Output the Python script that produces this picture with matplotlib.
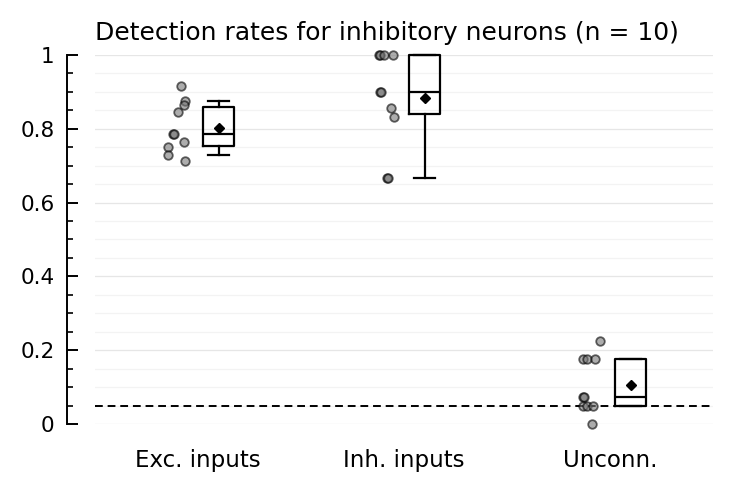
import matplotlib
matplotlib.use("Agg")
import matplotlib.pyplot as plt
import numpy as np

categories = ["Exc. inputs", "Inh. inputs", "Unconn."]
exc_vals = [0.917, 0.875, 0.864, 0.846, 0.786, 0.786, 0.751, 0.729, 0.764, 0.714]
exc_jit = [-0.082, -0.063, -0.068, -0.097, -0.121, -0.116, -0.145, -0.145, -0.068, -0.063]
inh_vals = [1.0, 1.0, 1.0, 1.0, 0.9, 0.9, 0.857, 0.833, 0.667, 0.667]
inh_jit = [-0.121, -0.116, -0.097, -0.053, -0.116, -0.113, -0.063, -0.048, -0.082, -0.080]
unc_vals = [0.225, 0.175, 0.175, 0.175, 0.073, 0.073, 0.05, 0.05, 0.05, 0.0]
unc_jit = [-0.048, -0.13, -0.11, -0.072, -0.13, -0.125, -0.13, -0.11, -0.082, -0.087]
chance_level = 0.05
title = "Detection rates for inhibitory neurons (n = 10)"

data = [exc_vals, inh_vals, unc_vals]
jits = [exc_jit, inh_jit, unc_jit]

fig = plt.figure(figsize=(7.34, 4.91), dpi=100)
ax = fig.add_axes([0.1294, 0.1365, 0.9714 - 0.1294, 0.888 - 0.1365])

# grid
ax.set_axisbelow(True)
ax.yaxis.set_major_locator(matplotlib.ticker.MultipleLocator(0.2))
ax.yaxis.set_minor_locator(matplotlib.ticker.MultipleLocator(0.05))
ax.grid(which="major", axis="y", color="#e6e6e6", lw=0.9)
ax.grid(which="minor", axis="y", color="#f3f3f3", lw=0.9)

for i, (vals, jit) in enumerate(zip(data, jits)):
    ax.scatter(np.array(jit) + i, vals, s=38, facecolor="#777777", edgecolor="black",
               alpha=0.6, linewidths=1.3, zorder=3, clip_on=False)

bp = ax.boxplot(data, positions=np.arange(3) + 0.1, widths=0.15, whis=(10, 90),
                showfliers=False, showmeans=True, capwidths=0.1,
                boxprops=dict(color="black", lw=1.6),
                whiskerprops=dict(color="black", lw=1.6),
                capprops=dict(color="black", lw=1.6),
                medianprops=dict(color="black", lw=1.6),
                meanprops=dict(marker="D", markerfacecolor="black", markeredgecolor="black",
                               markersize=5),
                manage_ticks=False, zorder=4)
for k in bp:
    for art in bp[k]:
        art.set_clip_on(False)

ax.axhline(chance_level, color="black", lw=1.4, ls=(0, (4, 2.5)), zorder=2)

ax.set_xlim(-0.5, 2.5)
ax.set_ylim(0, 1)
ax.set_xticks(np.arange(3))
ax.set_xticklabels(categories)
ax.set_yticks([0, 0.2, 0.4, 0.6, 0.8, 1.0])
ax.set_yticklabels(["0", "0.2", "0.4", "0.6", "0.8", "1"])
ax.tick_params(axis="x", length=0, pad=18, labelsize=16.5)
ax.tick_params(axis="y", which="major", length=8, width=1.4, pad=8.5, direction="in",
               labelsize=15.5)
ax.tick_params(axis="y", which="minor", length=4.3, width=1.2, direction="in")

for s in ["top", "right", "bottom"]:
    ax.spines[s].set_visible(False)
ax.spines["left"].set_position(("outward", 20.5))
ax.spines["left"].set_bounds(0, 1)
ax.spines["left"].set_linewidth(1.4)

ax.set_title(title, loc="left", fontsize=18, pad=11)

fig.savefig("out.png", dpi=100)
